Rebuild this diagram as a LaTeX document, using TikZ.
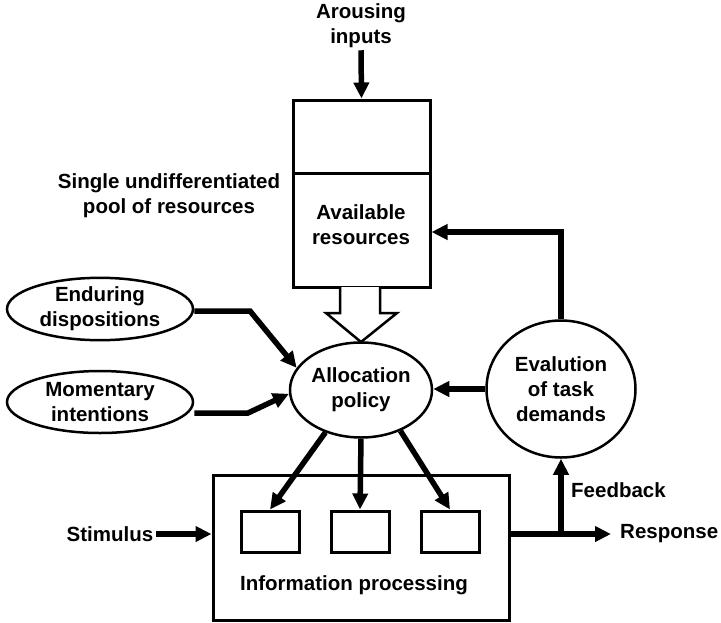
\documentclass[tikz,border=0pt]{standalone}
\usepackage{fontspec}
\setmainfont{Liberation Sans}
\usetikzlibrary{arrows.meta,shapes.geometric,calc}
\begin{document}
\begin{tikzpicture}[x=1pt,y=-1pt,
  every node/.style={font=\fontsize{20.5}{25}\selectfont\bfseries, align=center},
  oval/.style={draw, ellipse, line width=2.5pt, inner sep=0pt},
  box/.style={draw, rectangle, line width=3pt, inner sep=0pt},
  flow/.style={line width=5.5pt, -{Triangle[length=16pt,width=15pt]}},
  txt/.style={inner sep=0pt}
]
\useasboundingbox (0,0) rectangle (721,622);

% resource pool with its divider
\node[box, minimum width=137pt, minimum height=187pt] (pool) at (361.5,193.5) {};
\draw[line width=3pt] (pool.west |- 0,173) -- (pool.east |- 0,173);
\node[txt] (avail) at (361,225) {Available\\resources};

% hollow arrow from the pool into the allocation policy
\draw[line width=2.5pt, fill=white, line join=miter]
  (340,287) -- (340,313) -- (326,313) -- (361,342) -- (397,313) -- (380,313) -- (380,287);

\node[txt] (arousing) at (361,26) {Arousing\\inputs};
\node[txt] (pooltxt) at (169,196) {Single undifferentiated\\pool of resources};

% ovals
\node[oval, minimum width=142pt, minimum height=95pt] (alloc) at (361,390) {Allocation\\policy};
\node[oval, minimum width=186pt, minimum height=62pt] (endur) at (100,309) {Enduring\\dispositions};
\node[oval, minimum width=186pt, minimum height=62pt] (moment) at (100,402) {Momentary\\intentions};
\node[oval, minimum width=149pt, minimum height=137pt] (eval) at (561,389) {Evalution\\of task\\demands};

% information processing
\node[box, minimum width=296pt, minimum height=145pt] (info) at (361,547.5) {};
\node[box, minimum width=58pt, minimum height=41pt] (p1) at (270,531.5) {};
\node[box, minimum width=58pt, minimum height=41pt] (p2) at (360,531.5) {};
\node[box, minimum width=58pt, minimum height=41pt] (p3) at (450,531.5) {};
\node[txt] (infotxt) at (354,585) {Information processing};

\node[txt] (stim) at (110,534) {Stimulus};
\node[txt, anchor=west] (resp) at (620,534) {Response};
\node[txt, anchor=west] (fbtxt) at (571,490) {Feedback};

\coordinate (bendA) at (250,311);
\coordinate (bendB) at (248,413);
\coordinate (up) at (561,232);
\coordinate (fb) at (561,534);

% connectors
\draw[flow] (arousing.south) ++(0,2) -- (pool.north);
\draw[flow] (endur.east |- bendA) -- (bendA) -- (alloc.161);
\draw[flow] (moment.east |- bendB) -- (bendB) -- (alloc.183);
\draw[flow] (eval.west) -- (eval.west -| alloc.east);
\draw[flow] (eval.north) -- (up) -- (up -| pool.east);
\draw[flow] (alloc.230) -- (p1.north);
\draw[flow] (alloc.south) -- (p2.north);
\draw[flow] (alloc.314) -- (p3.north);
\draw[flow, shorten <=3pt] (stim.east) -- (stim.east -| info.west);
\draw[flow, shorten >=9pt] (fb -| info.east) -- (resp.west);
\draw[flow] (fb) -- (eval.south);
\end{tikzpicture}
\end{document}
